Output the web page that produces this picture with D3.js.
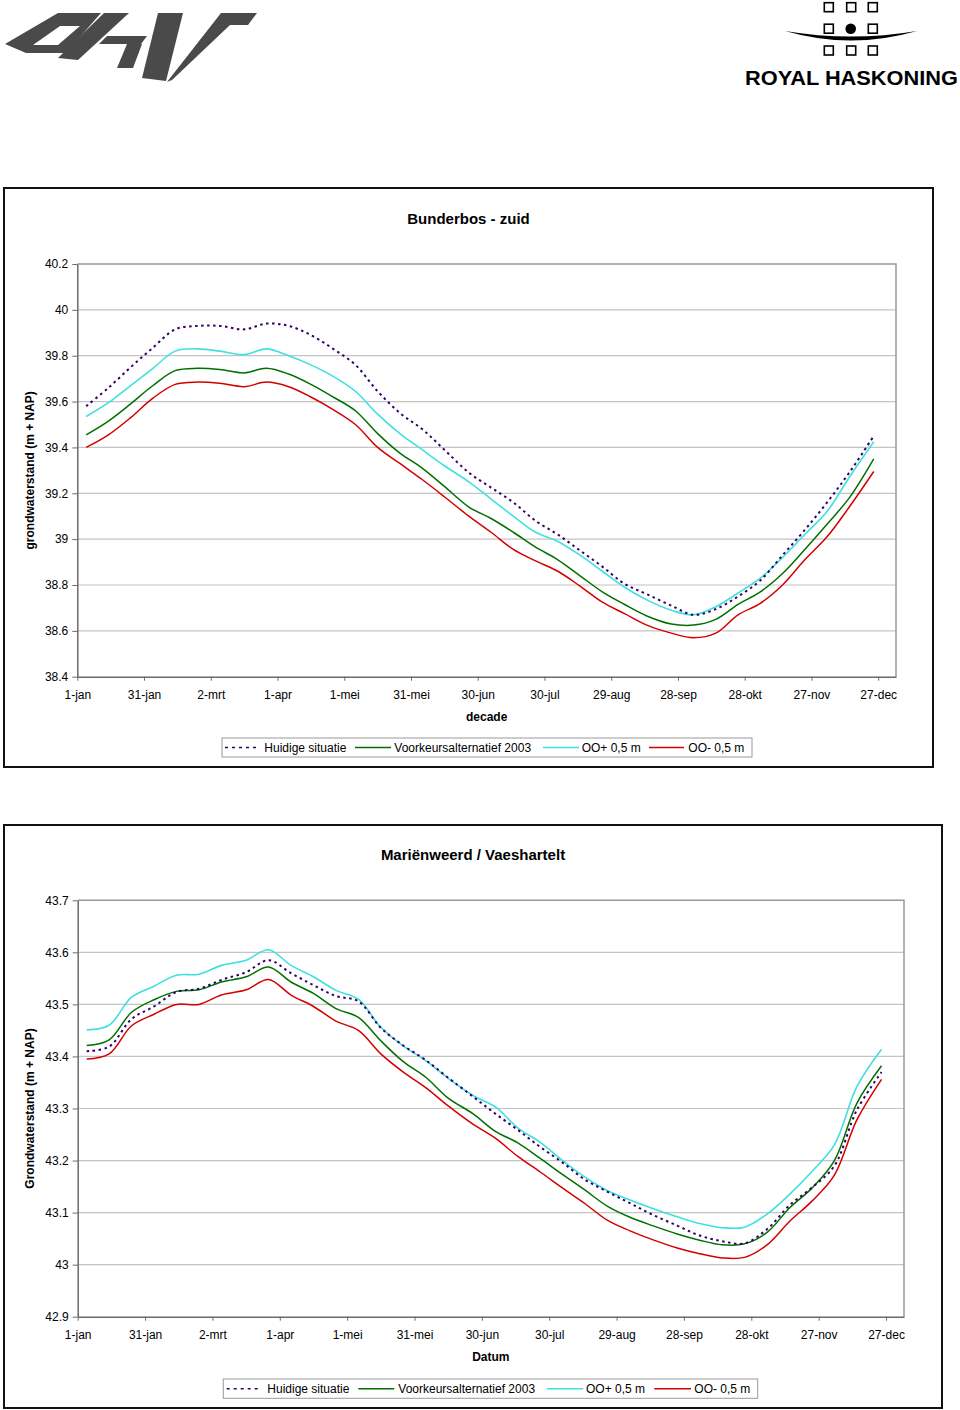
<!DOCTYPE html>
<html><head><meta charset="utf-8">
<script src="https://cdn.jsdelivr.net/npm/d3@7"></script>
<style>
body{margin:0;background:#fff}
svg{display:block}
text{font-family:"Liberation Sans",Arial,Helvetica,sans-serif}
</style>
</head><body>
<svg id="c" width="960" height="1410"></svg>
<script>
// ---------- DATA ----------
const tickDays = [0,30,60,90,120,150,180,210,240,270,300,330,360];
const tickLabels = ["1-jan","31-jan","2-mrt","1-apr","1-mei","31-mei","30-jun","30-jul","29-aug","28-sep","28-okt","27-nov","27-dec"];
// decade positions (day of year)
const decadeDays = [4,14,24,34,44,54,64,75,85,95,105,115,125,135,145,155,165,176,186,196,206,216,226,236,246,256,267,277,287,297,307,317,327,337,347,358];

const seriesNames = ["Huidige situatie","Voorkeursalternatief 2003","OO+ 0,5 m","OO- 0,5 m"];

// Chart 1: Bunderbos - zuid
const huidige1 = [39.58,39.66,39.75,39.835,39.915,39.93,39.93,39.915,39.94,39.93,39.89,39.83,39.76,39.645,39.55,39.48,39.39,39.29,39.225,39.16,39.08,39.02,38.95,38.88,38.805,38.76,38.71,38.67,38.695,38.75,38.82,38.93,39.04,39.16,39.29,39.45];
const voorkeur1 = [39.455,39.515,39.59,39.67,39.735,39.745,39.74,39.725,39.745,39.72,39.675,39.62,39.56,39.46,39.375,39.31,39.23,39.14,39.09,39.03,38.965,38.91,38.84,38.77,38.715,38.665,38.63,38.625,38.65,38.715,38.77,38.85,38.955,39.065,39.18,39.35];
const oPlus1 = [39.535,39.595,39.67,39.745,39.82,39.83,39.82,39.805,39.83,39.80,39.76,39.71,39.645,39.545,39.46,39.39,39.32,39.25,39.175,39.10,39.03,38.99,38.93,38.86,38.79,38.735,38.69,38.67,38.705,38.765,38.83,38.92,39.02,39.12,39.27,39.425];
const oMin1 = [39.40,39.455,39.53,39.615,39.675,39.685,39.68,39.665,39.685,39.665,39.62,39.565,39.50,39.40,39.33,39.26,39.185,39.10,39.03,38.955,38.905,38.86,38.795,38.725,38.675,38.625,38.59,38.57,38.59,38.67,38.72,38.80,38.91,39.01,39.14,39.295];
const yTicks1 = [38.4,38.6,38.8,39,39.2,39.4,39.6,39.8,40,40.2];

// Chart 2: Mariënweerd / Vaeshartelt
const huidige2 = [43.41,43.419,43.472,43.496,43.524,43.53,43.547,43.562,43.585,43.56,43.537,43.516,43.506,43.455,43.421,43.393,43.359,43.323,43.29,43.259,43.226,43.196,43.163,43.14,43.118,43.096,43.075,43.056,43.045,43.041,43.068,43.114,43.148,43.19,43.297,43.37];
const voorkeur2 = [43.421,43.432,43.485,43.509,43.525,43.528,43.543,43.553,43.572,43.543,43.521,43.492,43.475,43.43,43.39,43.36,43.32,43.29,43.256,43.234,43.204,43.173,43.143,43.112,43.091,43.075,43.059,43.047,43.038,43.04,43.062,43.109,43.147,43.2,43.31,43.382];
const oPlus2 = [43.451,43.46,43.514,43.535,43.556,43.558,43.575,43.585,43.605,43.575,43.553,43.527,43.51,43.456,43.42,43.392,43.358,43.325,43.303,43.263,43.235,43.2,43.168,43.142,43.124,43.108,43.092,43.079,43.071,43.072,43.097,43.135,43.179,43.23,43.342,43.414];
const oMin2 = [43.395,43.405,43.459,43.481,43.5,43.5,43.518,43.528,43.548,43.518,43.496,43.468,43.45,43.405,43.37,43.34,43.305,43.27,43.243,43.208,43.178,43.147,43.117,43.085,43.065,43.048,43.032,43.021,43.013,43.014,43.038,43.083,43.122,43.172,43.278,43.356];
const yTicks2 = [42.9,43,43.1,43.2,43.3,43.4,43.5,43.6,43.7];

// ---------- STYLES ----------
const styles = [
  {color:"#330066", width:2,   dash:"2.5,3.5"},
  {color:"#007000", width:1.5, dash:null},
  {color:"#3fe0e0", width:1.6, dash:null},
  {color:"#d40000", width:1.5, dash:null}
];
const drawOrder = [1,2,3,0];

const svg = d3.select("#c");
svg.append("rect").attr("width",960).attr("height",1410).attr("fill","#fff");

// ---------- LOGOS ----------
const dhv = svg.append("g").attr("fill","#4a4a4a").attr("fill-rule","evenodd");
const poly = p => "M" + p.map(q=>q.join(",")).join("L") + "Z";
[
  // D: slanted ring
  poly([[5,44],[58,13],[101,13],[66,53],[26,53]]) + poly([[33,45],[60,26],[80,26],[58,45]]),
  // H
  poly([[58,58],[104,13],[129,13],[78,60]]),
  poly([[99,44],[107,36],[147,36],[141,44]]),
  poly([[127,44],[142,44],[133,68],[117,68]]),
  // V
  poly([[142,78],[158,13],[183,13],[166,81]]),
  poly([[167,82],[221,13],[257,13],[248,25],[230,25],[172,80]])
].forEach(d => dhv.append("path").attr("d", d));

const rh = svg.append("g");
const sqCols = [828.8, 851.2, 872.8], sqRows = [7.2, 28.7, 50.5];
sqRows.forEach((cy,ri) => sqCols.forEach((cx,ci) => {
  if (ri===1 && ci===1) {
    rh.append("circle").attr("cx",cx-0.5).attr("cy",cy).attr("r",5.3).attr("fill","#000");
  } else {
    rh.append("rect").attr("x",cx-4.5).attr("y",cy-4.5).attr("width",9).attr("height",9)
      .attr("fill","none").attr("stroke","#000").attr("stroke-width",1.6);
  }
}));
rh.append("path").attr("d","M785,31 Q851,42 917,31 Q851,50 785,31Z").attr("fill","#000");
rh.append("text").attr("x",745).attr("y",85).attr("font-family","DejaVu Sans")
  .attr("font-weight","bold").attr("font-size",20).attr("textLength",213)
  .attr("lengthAdjust","spacingAndGlyphs").attr("fill","#000").text("ROYAL HASKONING");

// ---------- CHART ----------
function drawChart(cfg) {
  const g = svg.append("g");
  const P = cfg.plot;
  g.append("rect").attr("x",cfg.frame[0]).attr("y",cfg.frame[1]).attr("width",cfg.frame[2]).attr("height",cfg.frame[3])
    .attr("fill","#fff").attr("stroke","#111").attr("stroke-width",2);

  const x = d3.scaleLinear().domain([0,368]).range([P.l,P.r]);
  const y = d3.scaleLinear().domain([cfg.yTicks[0], cfg.yTicks[cfg.yTicks.length-1]]).range([P.b,P.t]);

  // gridlines
  g.selectAll("line.grid").data(cfg.yTicks.slice(1,-1)).join("line")
    .attr("x1",P.l).attr("x2",P.r).attr("y1",d=>y(d)).attr("y2",d=>y(d))
    .attr("stroke","#c4c4c4").attr("stroke-width",1.2);
  // plot border top/right
  g.append("path").attr("d",`M${P.l},${y(cfg.yTicks[cfg.yTicks.length-1])}H${P.r}V${P.b}`)
    .attr("fill","none").attr("stroke","#999").attr("stroke-width",1.5);

  // y axis
  const ya = g.append("g").attr("transform",`translate(${P.l},0)`)
    .call(d3.axisLeft(y).tickValues(cfg.yTicks).tickFormat(v=>String(+v.toFixed(1)))
      .tickSizeInner(5).tickSizeOuter(0).tickPadding(4));
  // x axis
  const xa = g.append("g").attr("transform",`translate(0,${P.b})`)
    .call(d3.axisBottom(x).tickValues(tickDays).tickFormat((d,i)=>tickLabels[i])
      .tickSizeInner(4).tickSizeOuter(0).tickPadding(10));
  [ya,xa].forEach(a=>{
    a.select(".domain").attr("stroke","#6a6a6a").attr("stroke-width",1.5);
    a.selectAll(".tick line").attr("stroke","#6a6a6a").attr("stroke-width",1);
    a.selectAll("text").attr("font-size",12).attr("fill","#000")
      .attr("font-family","'Liberation Sans',Arial,sans-serif");
  });

  // lines
  const line = d3.line().x((d,i)=>x(decadeDays[i])).y(d=>y(d)).curve(d3.curveCatmullRom.alpha(0.5));
  drawOrder.forEach(si=>{
    const s = styles[si];
    g.append("path").datum(cfg.series[si]).attr("d",line)
      .attr("fill","none").attr("stroke",s.color).attr("stroke-width",s.width)
      .attr("stroke-dasharray",s.dash);
  });

  // titles
  g.append("text").attr("x",cfg.titleX).attr("y",cfg.titleY).attr("text-anchor","middle")
    .attr("font-weight","bold").attr("font-size",15).text(cfg.title);
  g.append("text").attr("x",(P.l+P.r)/2).attr("y",cfg.xTitleY).attr("text-anchor","middle")
    .attr("font-weight","bold").attr("font-size",12).text(cfg.xTitle);
  g.append("text").attr("transform",`translate(34,${(P.t+P.b)/2}) rotate(-90)`).attr("text-anchor","middle")
    .attr("font-weight","bold").attr("font-size",12).text(cfg.yTitle);

  // legend
  const L = cfg.legend;
  g.append("rect").attr("x",L.box[0]).attr("y",L.box[1]).attr("width",L.box[2]).attr("height",L.box[3])
    .attr("fill","#fff").attr("stroke","#999").attr("stroke-width",1);
  const ly = L.box[1] + L.box[3]/2;
  seriesNames.forEach((nm,i)=>{
    const it = L.items[i], s = styles[i];
    g.append("line").attr("x1",it[0]).attr("x2",it[1]).attr("y1",ly).attr("y2",ly)
      .attr("stroke",s.color).attr("stroke-width",1.5).attr("stroke-dasharray",i===0?"3,4":null);
    g.append("text").attr("x",it[2]).attr("y",ly+4.3).attr("font-size",12).text(nm);
  });
}

drawChart({
  frame:[4,188,929,579],
  plot:{l:77.3,r:896,t:264,b:676.7},
  yTicks:yTicks1,
  series:[huidige1,voorkeur1,oPlus1,oMin1],
  title:"Bunderbos - zuid", titleX:468.5, titleY:223.5,
  xTitle:"decade", xTitleY:721,
  yTitle:"grondwaterstand (m + NAP)",
  legend:{box:[222,738,530,19], items:[[225,258,264.3],[355,391,394.3],[543,579,581.7],[649,684,688.3]]}
});

drawChart({
  frame:[4,825,938,583],
  plot:{l:77.7,r:904,t:900.3,b:1316.7},
  yTicks:yTicks2,
  series:[huidige2,voorkeur2,oPlus2,oMin2],
  title:"Mariënweerd / Vaeshartelt", titleX:473, titleY:859.5,
  xTitle:"Datum", xTitleY:1361,
  yTitle:"Grondwaterstand (m + NAP)",
  legend:{box:[223.3,1379,534.4,19.3], items:[[226.7,260,267.3],[358.3,394.3,398.3],[546.7,583.3,586],[654.3,691,694.3]]}
});
</script>
</body></html>
